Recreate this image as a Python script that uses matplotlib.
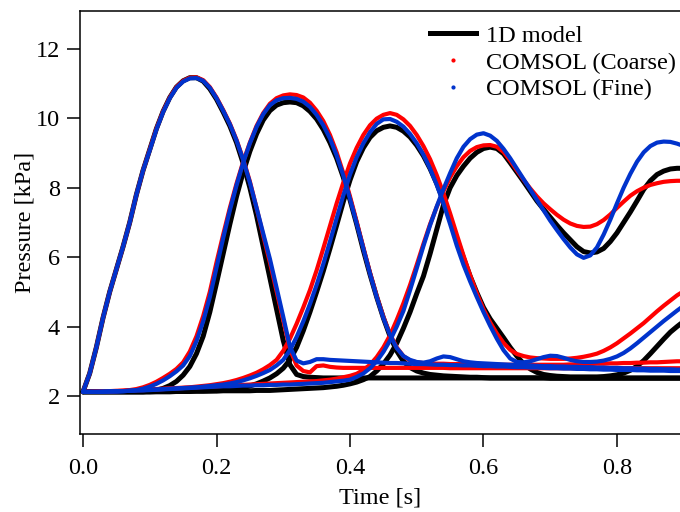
import matplotlib
matplotlib.use("Agg")
import matplotlib.pyplot as plt
from matplotlib.lines import Line2D

plt.rcParams['font.family'] = ['Liberation Serif', 'DejaVu Serif']

# time grid (s), 0.00 ... 0.90
t = [0.00, 0.01, 0.02, 0.03, 0.04, 0.05, 0.06, 0.07, 0.08, 0.09,
     0.10, 0.11, 0.12, 0.13, 0.14, 0.15, 0.16, 0.17, 0.18, 0.19,
     0.20, 0.21, 0.22, 0.23, 0.24, 0.25, 0.26, 0.27, 0.28, 0.29,
     0.30, 0.31, 0.32, 0.33, 0.34, 0.35, 0.36, 0.37, 0.38, 0.39,
     0.40, 0.41, 0.42, 0.43, 0.44, 0.45, 0.46, 0.47, 0.48, 0.49,
     0.50, 0.51, 0.52, 0.53, 0.54, 0.55, 0.56, 0.57, 0.58, 0.59,
     0.60, 0.61, 0.62, 0.63, 0.64, 0.65, 0.66, 0.67, 0.68, 0.69,
     0.70, 0.71, 0.72, 0.73, 0.74, 0.75, 0.76, 0.77, 0.78, 0.79,
     0.80, 0.81, 0.82, 0.83, 0.84, 0.85, 0.86, 0.87, 0.88, 0.89,
     0.90]

# ---------------- 1D model (black) ----------------
m1_p1 = [2.12, 2.65, 3.40, 4.25, 5.00, 5.65, 6.30, 7.00, 7.80, 8.50,
         9.10, 9.70, 10.20, 10.60, 10.90, 11.08, 11.17, 11.17, 11.07, 10.85,
         10.55, 10.18, 9.78, 9.30, 8.70, 8.00, 7.20, 6.30, 5.40, 4.50,
         3.60, 2.90, 2.62, 2.56, 2.54, 2.53, 2.52, 2.52, 2.52, 2.52,
         2.52, 2.52, 2.52, 2.52, 2.52, 2.52, 2.52, 2.52, 2.52, 2.52,
         2.52, 2.52, 2.52, 2.52, 2.52, 2.52, 2.52, 2.52, 2.52, 2.52,
         2.52, 2.52, 2.52, 2.52, 2.52, 2.52, 2.52, 2.52, 2.52, 2.52,
         2.51, 2.51, 2.51, 2.51, 2.51, 2.51, 2.51, 2.51, 2.51, 2.51,
         2.51, 2.51, 2.51, 2.51, 2.51, 2.51, 2.51, 2.51, 2.51, 2.51,
         2.51]
m1_p2 = [2.12, 2.12, 2.12, 2.12, 2.12, 2.12, 2.12, 2.12, 2.12, 2.12,
         2.14, 2.17, 2.22, 2.30, 2.42, 2.60, 2.85, 3.22, 3.72, 4.42,
         5.25, 6.10, 6.95, 7.75, 8.45, 9.05, 9.55, 9.95, 10.22, 10.38,
         10.45, 10.47, 10.45, 10.36, 10.20, 9.98, 9.68, 9.30, 8.85, 8.30,
         7.65, 6.95, 6.20, 5.50, 4.85, 4.25, 3.72, 3.30, 3.00, 2.82,
         2.72, 2.66, 2.62, 2.60, 2.58, 2.57, 2.56, 2.55, 2.54, 2.54,
         2.53, 2.52, 2.52, 2.52, 2.52, 2.52, 2.52, 2.52, 2.52, 2.52,
         2.52, 2.52, 2.52, 2.52, 2.52, 2.52, 2.52, 2.52, 2.52, 2.52,
         2.52, 2.52, 2.52, 2.52, 2.52, 2.52, 2.52, 2.52, 2.52, 2.52,
         2.52]
m1_p3 = [2.12, 2.12, 2.12, 2.12, 2.12, 2.12, 2.12, 2.12, 2.12, 2.12,
         2.12, 2.12, 2.12, 2.12, 2.13, 2.13, 2.13, 2.14, 2.14, 2.15,
         2.16, 2.17, 2.19, 2.21, 2.24, 2.29, 2.35, 2.43, 2.52, 2.64,
         2.80, 3.04, 3.40, 3.88, 4.42, 5.00, 5.60, 6.25, 6.92, 7.60,
         8.22, 8.75, 9.15, 9.45, 9.64, 9.74, 9.78, 9.74, 9.63, 9.46,
         9.22, 8.92, 8.55, 8.12, 7.62, 7.08, 6.52, 5.98, 5.45, 4.98,
         4.55, 4.22, 3.95, 3.68, 3.40, 3.15, 2.93, 2.78, 2.68, 2.62,
         2.59, 2.57, 2.56, 2.55, 2.55, 2.55, 2.55, 2.55, 2.56, 2.58,
         2.61, 2.66, 2.74, 2.86, 3.02, 3.22, 3.43, 3.64, 3.84, 4.00,
         4.15]
m1_p4 = [2.12, 2.12, 2.12, 2.12, 2.12, 2.12, 2.12, 2.12, 2.12, 2.12,
         2.12, 2.13, 2.13, 2.13, 2.13, 2.13, 2.14, 2.14, 2.14, 2.14,
         2.14, 2.15, 2.15, 2.15, 2.15, 2.15, 2.16, 2.16, 2.16, 2.17,
         2.18, 2.19, 2.20, 2.21, 2.22, 2.23, 2.24, 2.26, 2.28, 2.31,
         2.35, 2.40, 2.47, 2.56, 2.72, 2.92, 3.18, 3.52, 3.95, 4.42,
         4.95, 5.45, 6.10, 6.80, 7.50, 8.00, 8.35, 8.62, 8.85, 9.02,
         9.13, 9.17, 9.13, 8.98, 8.72, 8.45, 8.18, 7.90, 7.62, 7.38,
         7.15, 6.92, 6.70, 6.50, 6.30, 6.16, 6.12, 6.15, 6.25, 6.45,
         6.70, 7.00, 7.30, 7.62, 7.95, 8.20, 8.38, 8.48, 8.54, 8.56,
         8.56]

# ---------------- COMSOL coarse (red) ----------------
c_p1 = [2.12, 2.65, 3.40, 4.25, 5.00, 5.65, 6.30, 7.00, 7.80, 8.50,
        9.10, 9.70, 10.20, 10.60, 10.90, 11.08, 11.17, 11.18, 11.10, 10.90,
        10.60, 10.24, 9.85, 9.38, 8.82, 8.18, 7.42, 6.62, 5.85, 5.02,
        4.18, 3.35, 2.88, 2.72, 2.68, 2.86, 2.88, 2.84, 2.82, 2.81,
        2.81, 2.81, 2.81, 2.81, 2.81, 2.81, 2.81, 2.81, 2.81, 2.81,
        2.81, 2.81, 2.81, 2.81, 2.81, 2.80, 2.80, 2.80, 2.80, 2.80,
        2.80, 2.80, 2.80, 2.80, 2.80, 2.80, 2.80, 2.80, 2.80, 2.80,
        2.80, 2.80, 2.80, 2.80, 2.80, 2.80, 2.80, 2.80, 2.80, 2.80,
        2.80, 2.80, 2.80, 2.80, 2.80, 2.80, 2.80, 2.80, 2.80, 2.80,
        2.80]
c_p2 = [2.12, 2.12, 2.12, 2.13, 2.13, 2.14, 2.15, 2.17, 2.20, 2.25,
        2.32, 2.41, 2.52, 2.64, 2.78, 2.97, 3.28, 3.72, 4.30, 5.00,
        5.85, 6.65, 7.42, 8.12, 8.75, 9.30, 9.78, 10.15, 10.42, 10.58,
        10.66, 10.69, 10.67, 10.60, 10.45, 10.22, 9.92, 9.52, 9.02, 8.42,
        7.75, 7.02, 6.28, 5.55, 4.88, 4.28, 3.78, 3.40, 3.15, 3.02,
        2.97, 2.95, 2.94, 2.93, 2.93, 2.92, 2.92, 2.92, 2.91, 2.91,
        2.91, 2.90, 2.90, 2.90, 2.90, 2.90, 2.90, 2.90, 2.90, 2.90,
        2.90, 2.90, 2.90, 2.91, 2.91, 2.92, 2.92, 2.93, 2.93, 2.94,
        2.94, 2.95, 2.95, 2.96, 2.96, 2.97, 2.97, 2.98, 2.99, 3.00,
        3.00]
c_p3 = [2.12, 2.12, 2.12, 2.13, 2.13, 2.14, 2.15, 2.16, 2.17, 2.18,
        2.19, 2.20, 2.21, 2.22, 2.23, 2.24, 2.25, 2.27, 2.29, 2.31,
        2.34, 2.37, 2.41, 2.46, 2.52, 2.59, 2.67, 2.77, 2.89, 3.04,
        3.30, 3.65, 4.08, 4.55, 5.05, 5.62, 6.25, 6.90, 7.55, 8.15,
        8.70, 9.15, 9.52, 9.80, 9.99, 10.10, 10.15, 10.10, 9.97, 9.78,
        9.52, 9.20, 8.82, 8.36, 7.84, 7.26, 6.65, 6.05, 5.48, 4.96,
        4.50, 4.12, 3.80, 3.53, 3.33, 3.21, 3.15, 3.11, 3.09, 3.08,
        3.07, 3.07, 3.07, 3.08, 3.10, 3.13, 3.17, 3.22, 3.30, 3.40,
        3.52, 3.66, 3.80, 3.95, 4.10, 4.27, 4.44, 4.60, 4.75, 4.90,
        5.02]
c_p4 = [2.12, 2.12, 2.13, 2.13, 2.14, 2.15, 2.15, 2.16, 2.17, 2.17,
        2.18, 2.19, 2.20, 2.21, 2.22, 2.23, 2.24, 2.25, 2.26, 2.27,
        2.28, 2.29, 2.30, 2.31, 2.32, 2.33, 2.34, 2.35, 2.36, 2.37,
        2.38, 2.39, 2.40, 2.41, 2.42, 2.43, 2.45, 2.47, 2.50, 2.54,
        2.58, 2.64, 2.75, 2.90, 3.12, 3.40, 3.75, 4.19, 4.67, 5.20,
        5.78, 6.38, 6.95, 7.45, 7.90, 8.30, 8.62, 8.88, 9.06, 9.17,
        9.22, 9.23, 9.18, 9.03, 8.78, 8.50, 8.23, 7.98, 7.75, 7.55,
        7.38, 7.22, 7.08, 6.97, 6.90, 6.87, 6.88, 6.95, 7.07, 7.23,
        7.42, 7.60, 7.77, 7.90, 8.00, 8.08, 8.13, 8.17, 8.19, 8.20,
        8.20]

# ---------------- COMSOL fine (blue) ----------------
f_p1 = [2.12, 2.65, 3.40, 4.25, 5.00, 5.65, 6.30, 7.00, 7.80, 8.50,
        9.08, 9.68, 10.18, 10.58, 10.88, 11.06, 11.15, 11.16, 11.08, 10.88,
        10.58, 10.22, 9.83, 9.36, 8.80, 8.15, 7.42, 6.68, 5.95, 5.12,
        4.28, 3.42, 3.02, 2.94, 2.98, 3.06, 3.06, 3.04, 3.03, 3.02,
        3.01, 3.00, 2.99, 2.98, 2.97, 2.96, 2.95, 2.95, 2.94, 2.93,
        2.92, 2.92, 2.91, 2.90, 2.90, 2.89, 2.89, 2.88, 2.88, 2.87,
        2.86, 2.86, 2.85, 2.85, 2.84, 2.83, 2.83, 2.82, 2.82, 2.81,
        2.80, 2.80, 2.79, 2.79, 2.78, 2.78, 2.77, 2.77, 2.76, 2.76,
        2.75, 2.75, 2.75, 2.74, 2.74, 2.73, 2.73, 2.73, 2.72, 2.72,
        2.72]
f_p2 = [2.12, 2.12, 2.12, 2.12, 2.13, 2.13, 2.14, 2.15, 2.17, 2.21,
        2.27, 2.35, 2.45, 2.57, 2.71, 2.88, 3.15, 3.58, 4.15, 4.85,
        5.70, 6.55, 7.35, 8.07, 8.72, 9.28, 9.75, 10.12, 10.38, 10.52,
        10.58, 10.59, 10.56, 10.48, 10.33, 10.10, 9.80, 9.42, 8.93, 8.35,
        7.68, 6.97, 6.25, 5.52, 4.85, 4.25, 3.75, 3.38, 3.15, 3.04,
        2.98, 2.96, 3.00, 3.08, 3.14, 3.12, 3.06, 3.00, 2.97, 2.95,
        2.94, 2.93, 2.92, 2.91, 2.90, 2.90, 2.89, 2.88, 2.87, 2.86,
        2.86, 2.85, 2.85, 2.84, 2.84, 2.83, 2.83, 2.82, 2.82, 2.81,
        2.81, 2.80, 2.80, 2.79, 2.79, 2.78, 2.78, 2.77, 2.77, 2.76,
        2.76]
f_p3 = [2.12, 2.12, 2.12, 2.12, 2.13, 2.13, 2.14, 2.15, 2.16, 2.17,
        2.18, 2.19, 2.20, 2.21, 2.22, 2.23, 2.24, 2.25, 2.27, 2.29,
        2.31, 2.33, 2.36, 2.40, 2.45, 2.51, 2.58, 2.66, 2.75, 2.88,
        3.04, 3.32, 3.70, 4.15, 4.65, 5.20, 5.80, 6.45, 7.12, 7.78,
        8.38, 8.88, 9.28, 9.60, 9.84, 9.97, 9.98, 9.90, 9.76, 9.55,
        9.28, 8.95, 8.55, 8.08, 7.55, 6.95, 6.33, 5.78, 5.30, 4.85,
        4.42, 4.02, 3.65, 3.32, 3.08, 2.98, 2.97, 3.00, 3.06, 3.12,
        3.16, 3.15, 3.10, 3.04, 3.00, 2.98, 2.98, 2.99, 3.02, 3.07,
        3.14, 3.24, 3.37, 3.52, 3.68, 3.84, 4.00, 4.16, 4.31, 4.46,
        4.60]
f_p4 = [2.12, 2.12, 2.12, 2.13, 2.13, 2.14, 2.14, 2.15, 2.16, 2.16,
        2.17, 2.18, 2.19, 2.20, 2.21, 2.22, 2.23, 2.24, 2.25, 2.26,
        2.27, 2.28, 2.28, 2.29, 2.30, 2.30, 2.31, 2.31, 2.32, 2.32,
        2.33, 2.33, 2.34, 2.35, 2.36, 2.37, 2.38, 2.40, 2.42, 2.44,
        2.47, 2.55, 2.65, 2.80, 3.00, 3.27, 3.60, 4.00, 4.45, 5.05,
        5.68, 6.32, 6.92, 7.46, 7.96, 8.42, 8.85, 9.18, 9.40, 9.53,
        9.57, 9.50, 9.35, 9.12, 8.85, 8.55, 8.25, 7.95, 7.65, 7.35,
        7.05, 6.78, 6.52, 6.28, 6.08, 5.98, 6.05, 6.28, 6.65, 7.08,
        7.55, 8.00, 8.40, 8.75, 9.02, 9.20, 9.30, 9.33, 9.32, 9.27,
        9.20]

model_curves = [m1_p1, m1_p2, m1_p3, m1_p4]
coarse_curves = [c_p1, c_p2, c_p3, c_p4]
fine_curves = [f_p1, f_p2, f_p3, f_p4]

legend_labels = ["1D model", "COMSOL (Coarse)", "COMSOL (Fine)"]
yticks = [2, 4, 6, 8, 10, 12]
xticks = [0.0, 0.2, 0.4, 0.6, 0.8]

BLACK = "#000000"
RED = "#ff0000"
BLUE = "#0033cc"
FS = 17.5

fig = plt.figure(figsize=(6.8, 5.12), dpi=100)
ax = fig.add_axes([80/680, 1-434/512, 600/680, (434-10.7)/512])

for y in model_curves:
    ax.plot(t, y, color=BLACK, lw=3.6, solid_joinstyle='round', solid_capstyle='round', zorder=2)
for y in coarse_curves:
    ax.plot(t, y, color=RED, lw=3.0, solid_joinstyle='round', solid_capstyle='round', zorder=3)
for y in fine_curves:
    ax.plot(t, y, color=BLUE, lw=3.0, solid_joinstyle='round', solid_capstyle='round', zorder=4)

ax.set_xlim(-0.0045, 0.8944)
ax.set_ylim(0.905, 13.1)
ax.set_xticks(xticks)
ax.set_xticklabels([f"{v:.1f}" for v in xticks])
ax.set_yticks(yticks)
ax.spines['right'].set_visible(False)
for s in ['left', 'bottom', 'top']:
    ax.spines[s].set_linewidth(1.1)
ax.tick_params(direction='out', length=9.5, width=1.1, labelsize=FS, pad=5)
ax.tick_params(axis='x', pad=8)
ax.set_xlabel("Time [s]", fontsize=FS, labelpad=6)
ax.set_ylabel("Pressure [kPa]", fontsize=FS, labelpad=0)

handles = [Line2D([], [], color=BLACK, lw=3.6),
           Line2D([], [], color=RED, lw=0, marker='.', markersize=4),
           Line2D([], [], color=BLUE, lw=0, marker='.', markersize=4)]
ax.legend(handles, legend_labels, loc='upper right', frameon=False, fontsize=FS,
          handlelength=1.9, handletextpad=0.41, labelspacing=0.2,
          bbox_to_anchor=(1.01, 0.99), borderaxespad=0.2, borderpad=0.2)

fig.savefig("out.png", dpi=100)
